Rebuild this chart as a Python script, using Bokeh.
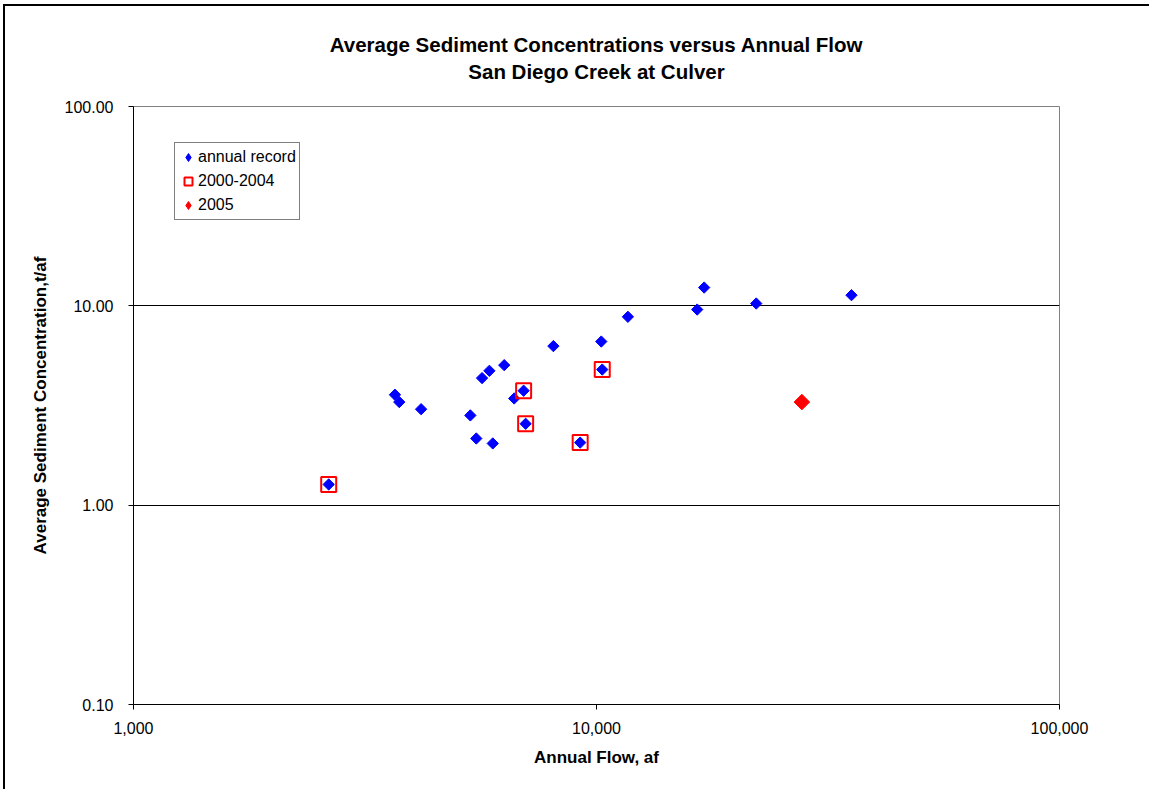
import numpy as np
from bokeh.plotting import figure
from bokeh.models import (Legend, LegendItem, FixedTicker, Title,
                          PrintfTickFormatter, NumeralTickFormatter)
from bokeh.embed import file_html
from bokeh.resources import INLINE

# Annual flow (acre-feet) and average sediment concentration (t/af)
flow_annual = [2640, 3670, 3750, 4180, 5340, 5500, 5660, 5870, 5970, 6320, 6640,
               6960, 7030, 8070, 9220, 10240, 10290, 11690, 16500, 17080, 22130, 35540]
conc_annual = [1.27, 3.58, 3.29, 3.03, 2.82, 2.16, 4.34, 4.72, 2.04, 5.04, 3.43,
               3.75, 2.56, 6.28, 2.06, 6.62, 4.79, 8.81, 9.58, 12.35, 10.27, 11.31]

flow_2000_2004 = [2640, 6960, 7030, 9220, 10290]
conc_2000_2004 = [1.27, 3.75, 2.56, 2.06, 4.79]

flow_2005 = [27770]
conc_2005 = [3.29]

x_ticks = [1000, 10000, 100000]
y_ticks = [0.1, 1, 10, 100]

FONT = "Liberation Sans"

p = figure(width=1146, height=785, x_axis_type="log", y_axis_type="log",
           x_range=(1000, 100000), y_range=(0.1, 100), title=None,
           output_backend="svg", toolbar_location=None,
           min_border_left=128, min_border_right=92,
           min_border_top=100, min_border_bottom=87)
p.styles = {"border-left": "2px solid black", "border-top": "2px solid black",
            "margin-left": "3px", "margin-top": "4px"}

p.background_fill_color = "white"
p.border_fill_color = "white"
p.outline_line_color = "#808080"
p.outline_line_width = 1

# axes
for ax in (p.xaxis[0], p.yaxis[0]):
    ax.axis_line_color = "black"
    ax.axis_line_width = 1
    ax.major_tick_line_color = "black"
    ax.major_tick_out = 5
    ax.major_tick_in = 0
    ax.minor_tick_line_color = None
    ax.major_label_text_font = FONT
    ax.major_label_text_font_size = "16px"
    ax.major_label_text_color = "black"
    ax.axis_label_text_font = FONT
    ax.axis_label_text_font_size = "17px"
    ax.axis_label_text_font_style = "bold"
    ax.axis_label_text_color = "black"

p.xaxis.ticker = FixedTicker(ticks=x_ticks)
p.xaxis.formatter = NumeralTickFormatter(format="0,0")
p.xaxis.major_label_standoff = 12
p.xaxis.axis_label = "Annual Flow, af"
p.xaxis.axis_label_standoff = 11

p.yaxis.ticker = FixedTicker(ticks=y_ticks)
p.yaxis.formatter = PrintfTickFormatter(format="%.2f")
p.yaxis.major_label_standoff = 15
p.yaxis.axis_label = "Average Sediment Concentration,t/af"
p.yaxis.axis_label_standoff = 12

p.xgrid.grid_line_color = None
p.ygrid.grid_line_color = "black"
p.ygrid.grid_line_width = 1
p.ygrid.ticker = FixedTicker(ticks=[1, 10])

# data
p.scatter(flow_annual, conc_annual, marker="square", angle=np.pi / 4,
          size=8, fill_color="#0000FF", line_color="#0000FF")
p.scatter(flow_2000_2004, conc_2000_2004, marker="square", size=15,
          fill_color=None, line_color="#FF0000", line_width=2)
p.scatter(flow_2005, conc_2005, marker="square", angle=np.pi / 4,
          size=11, fill_color="#FF0000", line_color="#FF0000")

# legend swatches (legend glyphs are drawn unrotated, so use diamond markers);
# NaN positions keep them out of the plot area
nan = [float("nan")]
k_annual = p.scatter(nan, nan, marker="diamond", fill_color="#0000FF", line_color="#0000FF")
k_box = p.scatter(nan, nan, marker="square", fill_color=None, line_color="#FF0000", line_width=2)
k_2005 = p.scatter(nan, nan, marker="diamond", fill_color="#FF0000", line_color="#FF0000")

legend = Legend(items=[LegendItem(label="annual record", renderers=[k_annual]),
                       LegendItem(label="2000-2004", renderers=[k_box]),
                       LegendItem(label="2005", renderers=[k_2005])],
                location=(41, 484))
legend.border_line_color = "black"
legend.border_line_width = 1
legend.background_fill_color = "white"
legend.background_fill_alpha = 1
legend.padding = 3
legend.margin = 0
legend.spacing = 2
legend.glyph_width = 20
legend.glyph_height = 22
legend.label_height = 22
legend.label_standoff = 0
legend.label_text_font = FONT
legend.label_text_font_size = "16px"
legend.label_text_color = "black"
p.add_layout(legend, "center")

# two-line chart title
title = Title(text="Average Sediment Concentrations versus Annual Flow\nSan Diego Creek at Culver",
              align="center", standoff=46, text_font=FONT, text_font_size="20.5px",
              text_font_style="bold", text_color="black", text_line_height=1.2)
title.text_align = "center"
p.add_layout(title, "above")

open("out.html", "w").write(file_html(p, INLINE))
